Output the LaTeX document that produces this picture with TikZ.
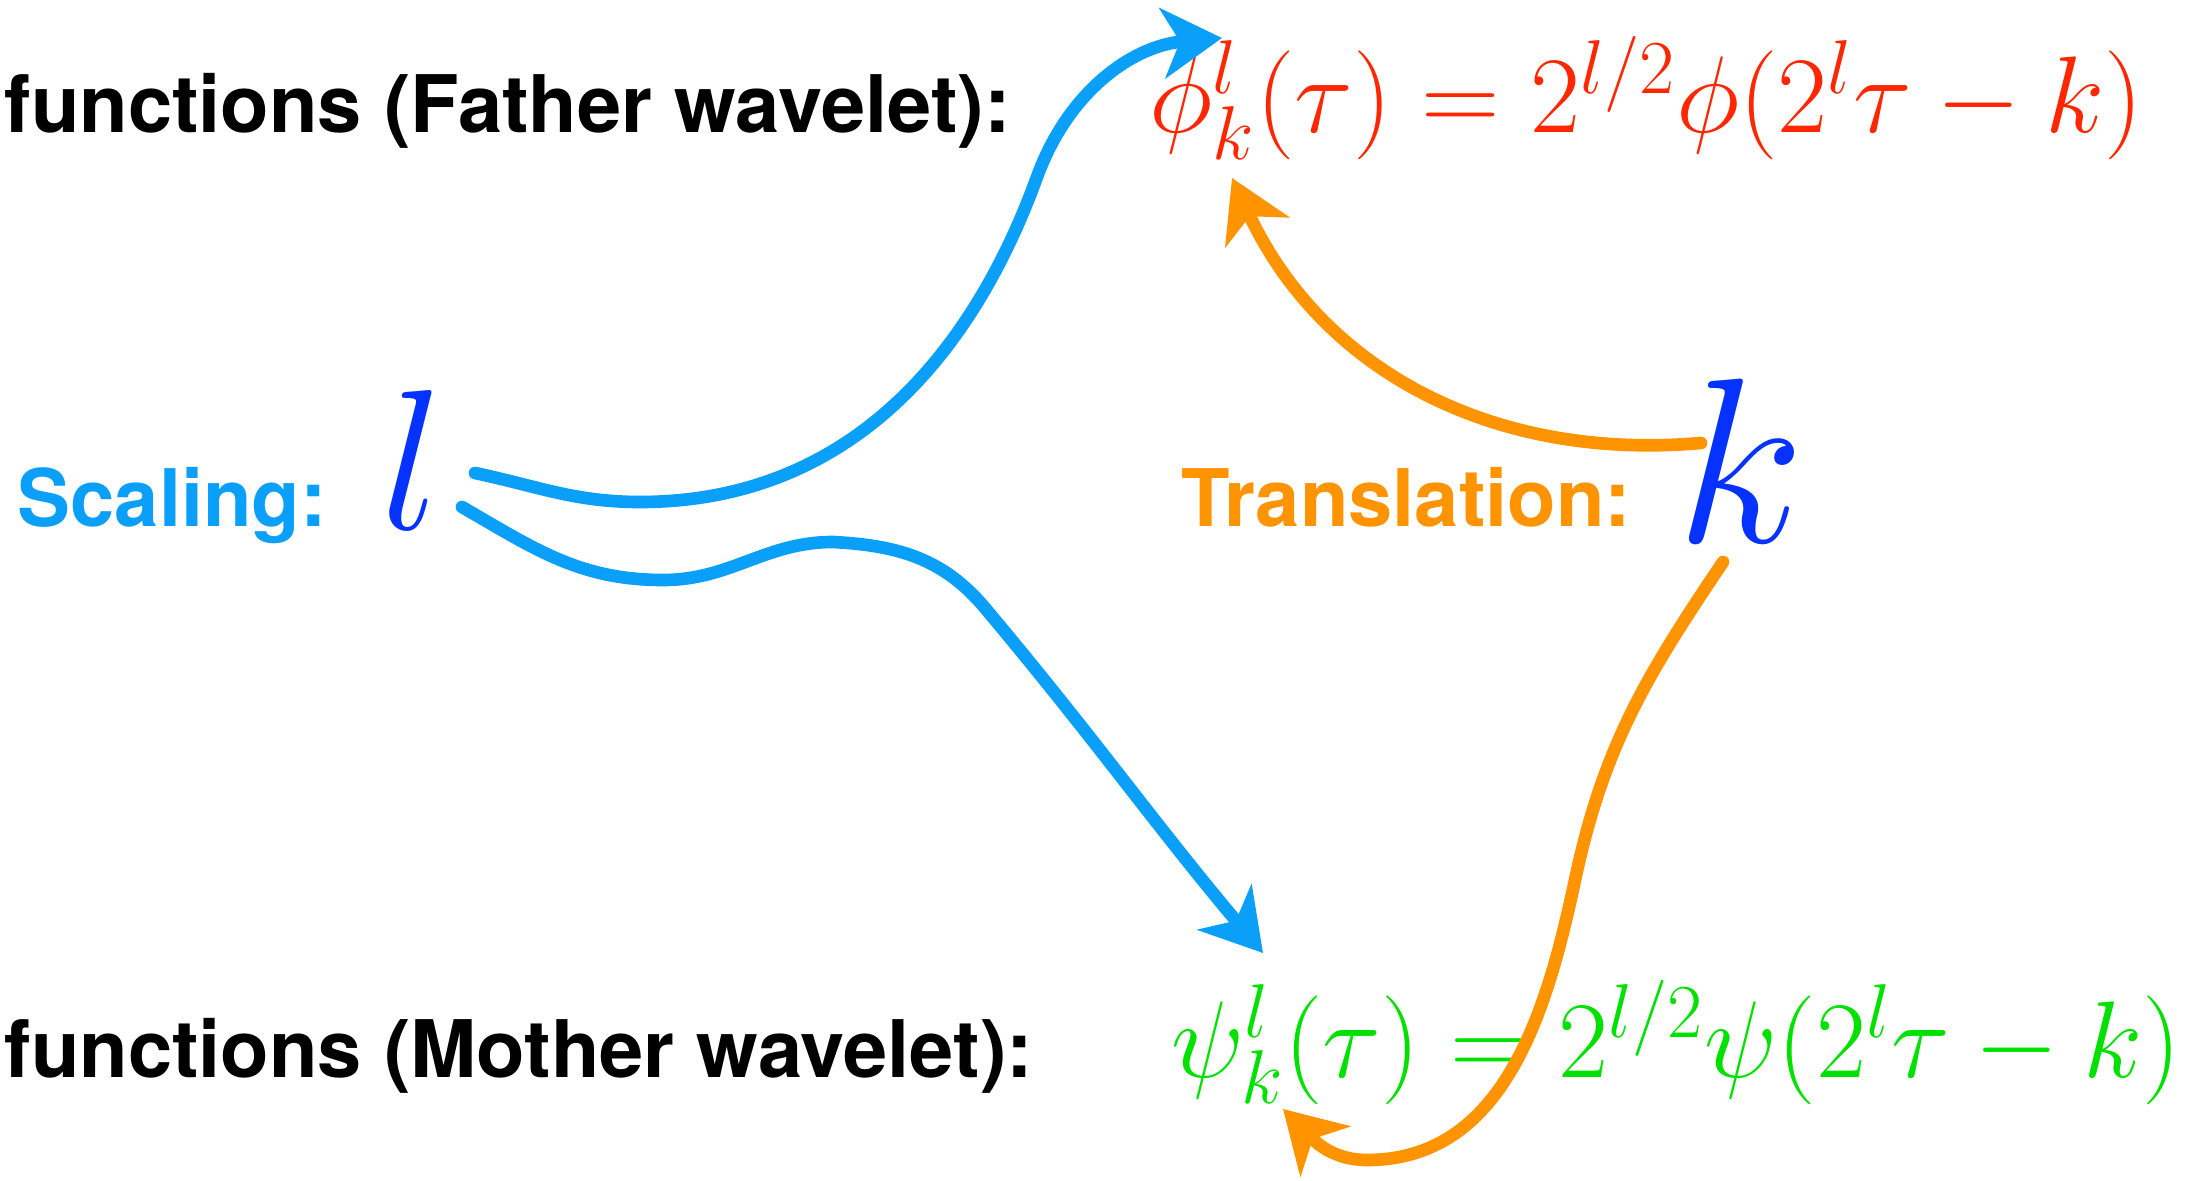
\RequirePackage{fix-cm}
\documentclass[tikz,border=0pt]{standalone}
\usepackage{fontspec}
\setsansfont{TeX Gyre Heros}
\usetikzlibrary{arrows.meta}

\definecolor{himmelblau}{RGB}{10,160,250}
\definecolor{tiefblau}{RGB}{5,50,255}
\definecolor{orangegelb}{RGB}{255,147,0}
\definecolor{rotorange}{RGB}{255,38,0}
\definecolor{hellgruen}{RGB}{0,225,0}

\begin{document}
\begin{tikzpicture}[
    beschriftung/.style={font=\sffamily\bfseries\fontsize{22.6}{26}\selectfont, inner sep=0pt, anchor=base west},
    formel/.style={font=\fontsize{31}{36}\selectfont, inner sep=0pt, anchor=base west},
    kreide/.style={line width=3.6pt, line cap=round, -{Stealth[length=17pt, width=20pt, inset=5pt]}}
  ]

    \useasboundingbox (0,0) rectangle (21.91,11.80);

    % 1. Beschriftungen links
    \node[beschriftung] (vater) at (0.04,10.47) {functions (Father wavelet):};
    \node[beschriftung] (mutter) at (0.04,1.03) {functions (Mother wavelet):};
    \node[beschriftung, text=himmelblau] (skal) at (0.17,6.53) {Scaling:};
    \node[beschriftung, text=orangegelb] (transl) at (11.81,6.53) {Translation:};

    % 2. Parameter l und k
    \node[inner sep=0pt, anchor=base, text=tiefblau, font=\fontsize{57}{60}\selectfont] (lsym) at (4.12,6.50) {$l$};
    \node[inner sep=0pt, anchor=base, text=tiefblau, font=\fontsize{67}{70}\selectfont] (ksym) at (17.40,6.37) {$k$};

    % 3. Formeln
    \node[formel, text=rotorange] (vaterformel) at (11.49,10.47) {$\phi^l_k(\tau) = 2^{l/2}\phi(2^l\tau - k)$};
    \node[formel, text=hellgruen] (mutterformel) at (11.71,1.03) {$\psi^l_k(\tau) = 2^{l/2}\psi(2^l\tau - k)$};

    % 4. Stuetzpunkte der Pfeile
    \coordinate (b1s) at (4.75,7.07);
    \coordinate (b1a) at (6.40,6.78);
    \coordinate (b1b) at (10.37,10.03);
    \coordinate (b1e) at (12.22,11.42);

    \coordinate (b2s) at (4.62,6.73);
    \coordinate (b2a) at (6.63,6.00);
    \coordinate (b2b) at (8.33,6.38);
    \coordinate (b2c) at (9.85,5.72);
    \coordinate (b2e) at (12.63,2.27);

    \coordinate (o1s) at (17.01,7.37);
    \coordinate (o1e) at (12.32,10.02);

    \coordinate (o2s) at (17.23,6.18);
    \coordinate (o2a) at (15.75,3.00);
    \coordinate (o2b) at (13.67,0.20);
    \coordinate (o2e) at (12.83,0.71);

    % 5. Pfeile (Skalierung blau, Translation orange)
    \draw[kreide, himmelblau] (b1s) to[out=-12, in=180] (b1a) to[out=0, in=250] (b1b) to[out=70, in=185] (b1e);
    \draw[kreide, himmelblau] (b2s) to[out=-30, in=180] (b2a) to[out=0, in=180] (b2b) to[out=-3, in=130] (b2c) to[out=-50, in=130] (b2e);
    \draw[kreide, orangegelb] (o1s) to[out=185, in=-65] (o1e);
    \draw[kreide, orangegelb] (o2s) to[out=236, in=78] (o2a) to[out=258, in=0] (o2b) to[out=180, in=-45] (o2e);

\end{tikzpicture}
\end{document}
